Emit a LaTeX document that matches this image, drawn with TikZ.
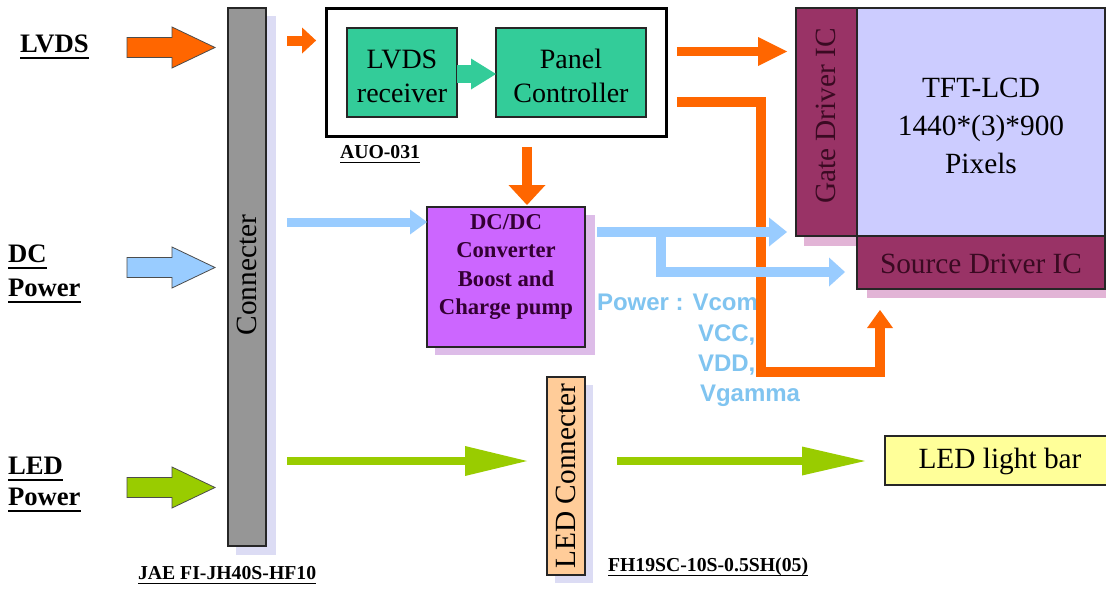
\documentclass[tikz,border=0pt]{standalone}
\usepackage{fontspec}
\setmainfont{Liberation Serif}
\setsansfont{Liberation Sans}
\usetikzlibrary{arrows.meta,fit}
\definecolor{cOrange}{HTML}{FF6600}
\definecolor{cBlue}{HTML}{99CCFF}
\definecolor{cGreen}{HTML}{99CC00}
\definecolor{cTeal}{HTML}{33CC99}
\definecolor{cMaroon}{HTML}{993366}
\definecolor{cLav}{HTML}{CCCCFF}
\definecolor{cPurple}{HTML}{CC66FF}
\definecolor{cPeach}{HTML}{FFCC99}
\definecolor{cYellow}{HTML}{FFFF99}
\definecolor{cGray}{HTML}{969696}
\definecolor{cShadowL}{HTML}{DCDCF4}
\definecolor{cShadowP}{HTML}{E2B4D6}
\definecolor{cShadowQ}{HTML}{DDBCE8}
\definecolor{cTextBlue}{HTML}{80C4F0}
\definecolor{cDarkM}{HTML}{3A0A22}
\definecolor{cDarkP}{HTML}{330033}
\tikzset{
  box/.style={draw=black!85, line width=0.8pt, inner sep=0pt, outer sep=0pt},
  serifbig/.style={font=\fontsize{22}{26}\selectfont},
  lbl/.style={inner sep=0pt, outer sep=0pt, anchor=base west, font=\fontsize{20}{24}\selectfont\bfseries},
  sl/.style={inner sep=0pt, outer sep=0pt, anchor=base west, font=\fontsize{14.8}{17}\selectfont\bfseries},
  btxt/.style={inner sep=0pt, outer sep=0pt, anchor=base west, text=cTextBlue, font=\fontsize{18}{22}\selectfont\sffamily\bfseries},
  ul/.style={draw=black, line width=1.5pt},
  headsz/.style 2 args={arrows={-{Triangle[length=#1 0 0,width=#2 0 0,line width=0pt 0 0]}}},
  oline/.style={draw=cOrange, line width=7.5pt, line join=miter},
  bline/.style={draw=cBlue, line width=7.5pt, line join=miter},
  gline/.style={draw=cGreen, line width=6.4pt},
  inarr/.style={draw=black!70, line width=0.6pt}
}
\newcommand{\inarrow}[2]{%
  \begin{scope}[shift={(127,#2)}]
    \filldraw[inarr, fill=#1] (0,-10) -- (45,-10) -- (45,-20.5) -- (88,0) -- (45,20.5) -- (45,10) -- (0,10) -- cycle;
  \end{scope}}
\begin{document}
\begin{tikzpicture}[x=0.75pt,y=-0.75pt]
\fill[white] (0,0) rectangle (1106,589);
\useasboundingbox (0,0) rectangle (1106,589);

% shadows
\fill[cShadowL] (266,16) rectangle (276,555);
\fill[cShadowL] (236,546) rectangle (276,555);
\fill[cShadowQ] (585,215) rectangle (595,355);
\fill[cShadowQ] (435,347) rectangle (595,355);
\fill[cShadowP] (804,236) rectangle (857,246);
\fill[cShadowP] (867,289) rectangle (1106,298);
\fill[cShadowL] (585,385) rectangle (593,583);
\fill[cShadowL] (555,575) rectangle (593,583);

% boxes
\node[box, fill=cGray, fit={(228,8) (266,546)}] (con) {};
\node[rotate=90, serifbig] (ctxt) at (247,275) {Connecter};
\node[box, draw=black, line width=2.6pt, fill=white, fit={(326.75,8.75) (666.25,136.25)}] (auo) {};
\node[box, fill=cTeal, fit={(347,28) (457,117)}] (lr) {};
\node[align=center, font=\fontsize{21}{25.5}\selectfont] (lrtxt) at (402,76) {LVDS\\receiver};
\node[box, fill=cTeal, fit={(496,28) (646,117)}] (pc) {};
\node[align=center, font=\fontsize{21}{25.5}\selectfont] (pctxt) at (571,76) {Panel\\Controller};
\node[box, fill=cPurple, fit={(427,207) (585,347)}] (dcdc) {};
\node[align=center, font=\fontsize{17}{21.4}\selectfont\bfseries, text=cDarkP] (dctxt) at (506,267) {DC/DC\\Converter\\Boost and\\Charge pump};
\node[box, fill=cMaroon, fit={(796,8) (857,236)}] (gate) {};
\node[rotate=90, serifbig, text=cDarkM] (gtxt) at (826,116) {Gate Driver IC};
\node[box, fill=cLav, fit={(857,8) (1105,236)}] (tft) {};
\node[align=center, font=\fontsize{22}{28.5}\selectfont] (tfttxt) at (981,126) {TFT-LCD\\1440*(3)*900\\Pixels};
\node[box, fill=cMaroon, fit={(857,236) (1105,289)}] (src) {};
\node[serifbig, text=cDarkM] (srctxt) at (981,264) {Source Driver IC};
\node[box, fill=cPeach, fit={(547,377) (585,575)}] (ledc) {};
\node[rotate=90, serifbig] (ltxt) at (566,476) {LED Connecter};
\node[box, fill=cYellow, fit={(885,436) (1120,485)}] (bar) {};
\node[serifbig] (btx) at (1000,461) {LED light bar};

% left labels
\node[lbl] (lvds) at (20,52) {LVDS};
\draw[ul] ([yshift=-4.5pt]lvds.base west) -- ([yshift=-4.5pt]lvds.base east);
\node[lbl] (dc) at (8,262) {DC};
\draw[ul] ([yshift=-4.5pt]dc.base west) -- ([yshift=-4.5pt]dc.base east);
\node[lbl] (pw1) at (8,296) {Power};
\draw[ul] ([yshift=-4.5pt]pw1.base west) -- ([yshift=-4.5pt]pw1.base east);
\node[lbl] (led) at (8,474) {LED};
\draw[ul] ([yshift=-4.5pt]led.base west) -- ([yshift=-4.5pt]led.base east);
\node[lbl] (pw2) at (8,505) {Power};
\draw[ul] ([yshift=-4.5pt]pw2.base west) -- ([yshift=-4.5pt]pw2.base east);

% input block arrows
\inarrow{cOrange}{47.5}
\inarrow{cBlue}{267.5}
\inarrow{cGreen}{487.5}

% small labels
\node[sl] (auol) at (340,158) {AUO-031};
\draw[ul, line width=1.2pt] ([yshift=-3.5pt]auol.base west) -- ([yshift=-3.5pt]auol.base east);
\node[sl] (jae) at (138,579) {JAE FI-JH40S-HF10};
\draw[ul, line width=1.2pt] ([yshift=-3.5pt]jae.base west) -- ([yshift=-3.5pt]jae.base east);
\node[sl] (fh) at (608,571) {FH19SC-10S-0.5SH(05)};
\draw[ul, line width=1.2pt] ([yshift=-3.5pt]fh.base west) -- ([yshift=-3.5pt]fh.base east);

% power text
\node[btxt] (p1) at (597,310) {Power : Vcom,};
\node[btxt] (p2) at (698,341) {VCC,};
\node[btxt] (p3) at (698,371) {VDD,};
\node[btxt] (p4) at (700,401) {Vgamma};

% helper coordinates
\coordinate (yA) at (0,40.5);
\coordinate (yB) at (0,51.5);
\coordinate (oL1) at (761,102);
\coordinate (oL2) at (880,372);
\coordinate (xD) at (527,0);
\coordinate (yE) at (0,222);
\coordinate (yF) at (0,232);
\coordinate (bj) at (661,232);
\coordinate (yG) at (0,272);
\coordinate (yH) at (0,461);
\coordinate (yT) at (0,74);

% orange connectors
\draw[oline, headsz={10.5pt}{19.5pt}, shorten <=15.75pt, shorten >=8pt] (con.east |- yA) -- (auo.west |- yA);
\draw[oline, line width=7.1pt, headsz={21.75pt}{21.75pt}, shorten <=8pt, shorten >=6.75pt] (auo.east |- yB) -- (gate.west |- yB);
\draw[oline, headsz={13.5pt}{19.5pt}, shorten <=8pt, shorten >=15.75pt] (auo.east |- oL1) -- (oL1) |- (oL2) -- (oL2 |- src.south);
\draw[oline, headsz={15pt}{27.75pt}, shorten <=8pt, shorten >=1.5pt] (auo.south -| xD) -- (dcdc.north -| xD);

% teal connector
\draw[draw=cTeal, line width=13.5pt, headsz={18.75pt}{23.25pt}] (lr.east |- yT) -- (pc.west |- yT);

% blue connectors
\draw[bline, line width=6.75pt, headsz={12.75pt}{18.75pt}, shorten <=15.75pt] (con.east |- yE) -- (dcdc.west |- yE);
\draw[bline, headsz={13.5pt}{21.75pt}, shorten <=9pt, shorten >=6.75pt] (dcdc.east |- yF) -- (gate.west |- yF);
\draw[bline, headsz={12pt}{21.75pt}, shorten >=9pt] (bj) |- (src.west |- yG);

% green connectors
\draw[gline, headsz={46.5pt}{22.5pt}, shorten <=15.75pt, shorten >=15pt] (con.east |- yH) -- (ledc.west |- yH);
\draw[gline, headsz={47.25pt}{21.75pt}, shorten <=24pt, shorten >=15pt] (ledc.east |- yH) -- (bar.west |- yH);
\end{tikzpicture}
\end{document}
